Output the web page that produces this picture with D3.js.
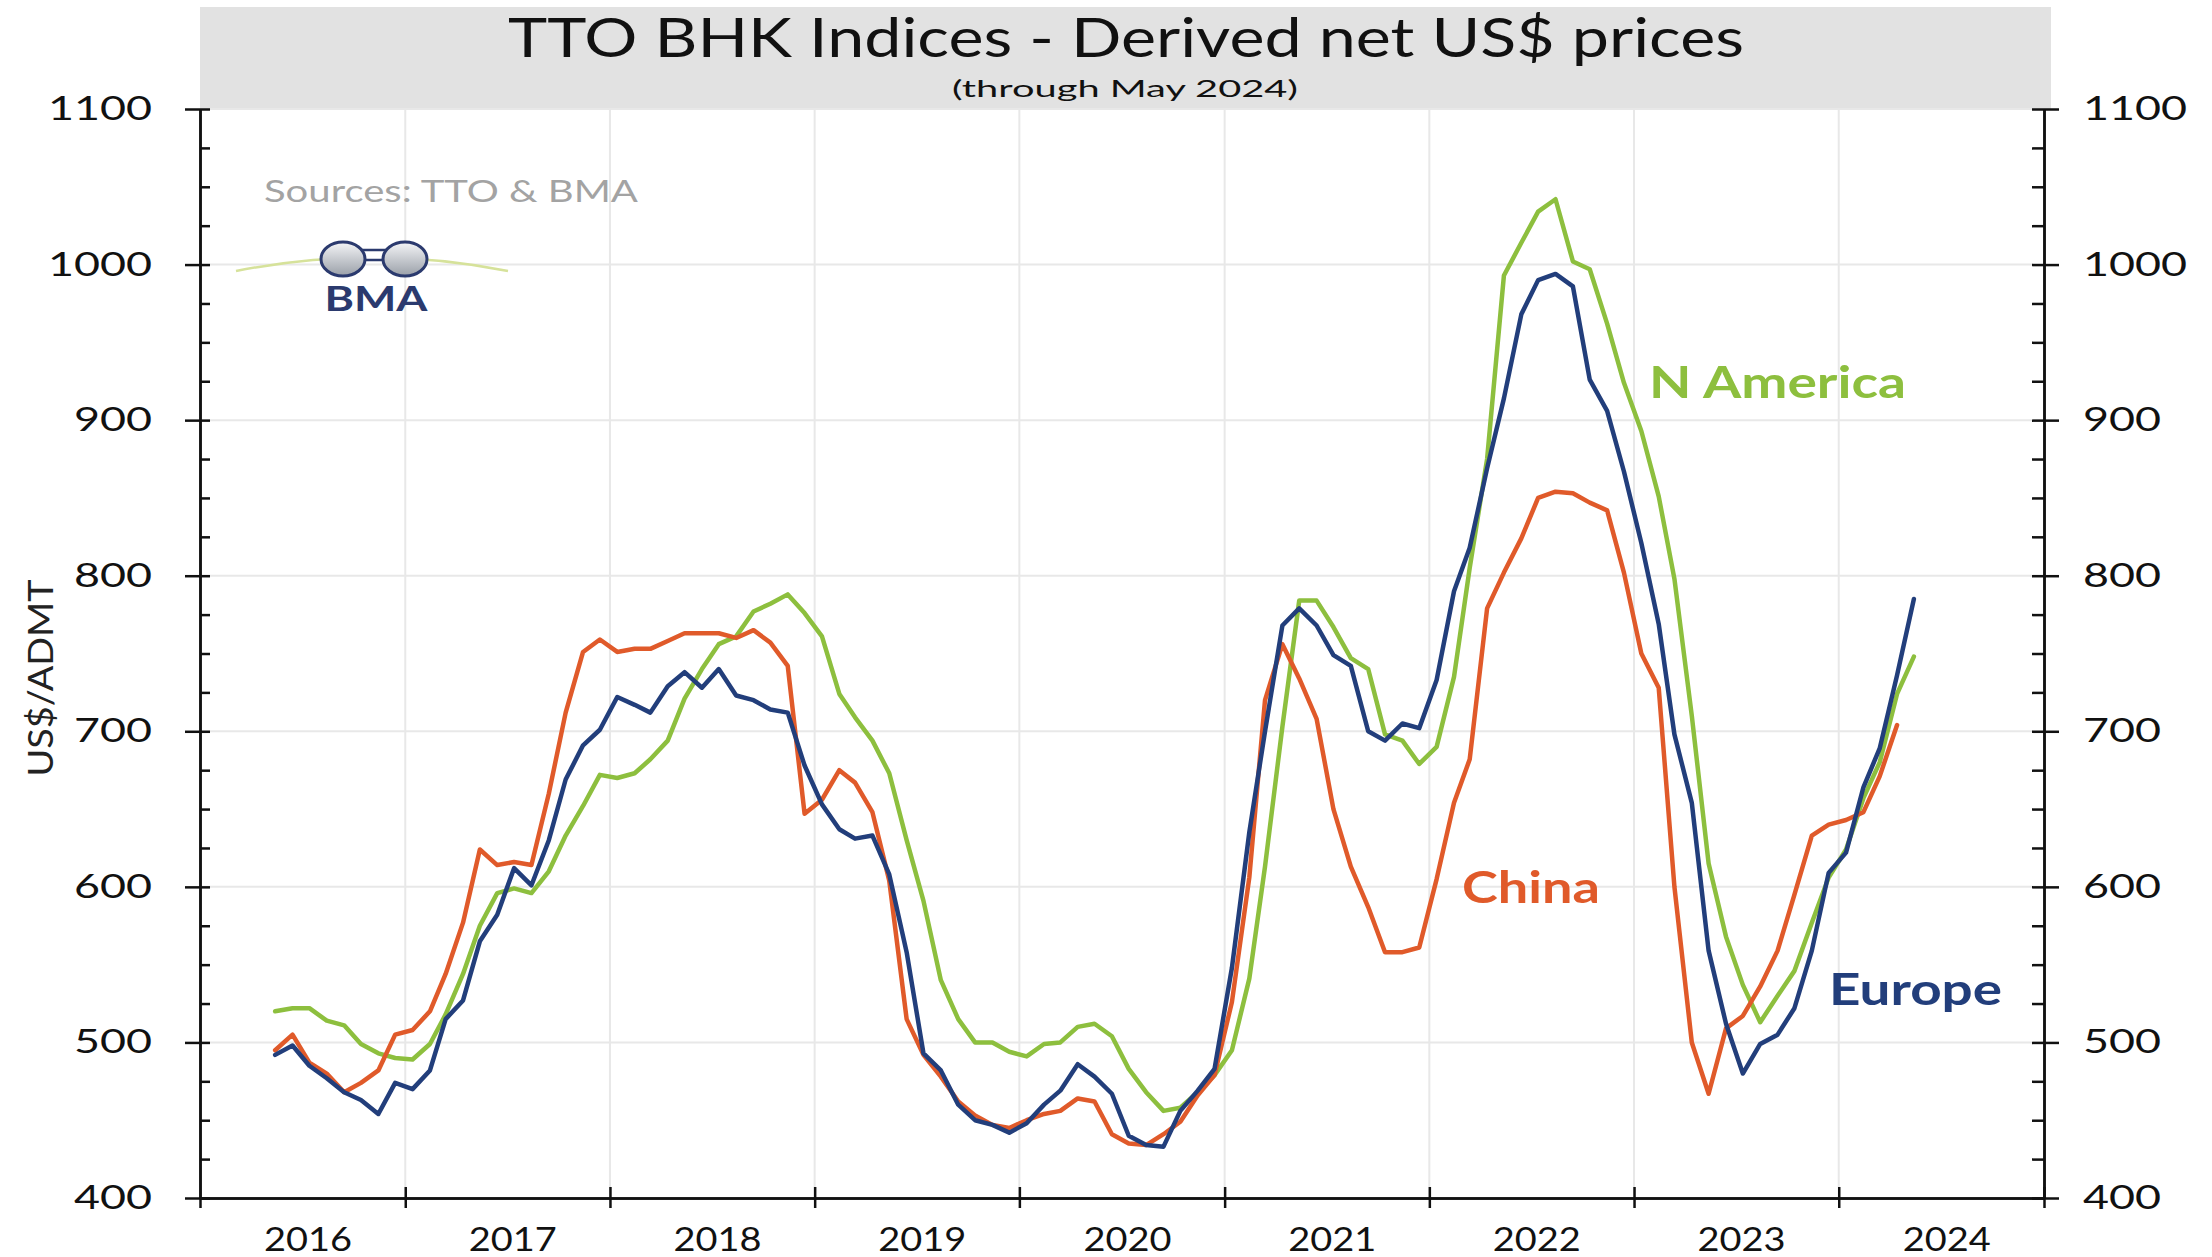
<!DOCTYPE html>
<html>
<head>
<meta charset="utf-8">
<script src="https://cdn.jsdelivr.net/npm/d3@7"></script>
<style>
  body { margin: 0; background: #fff; }
  svg { display: block; font-family: Lato, 'Open Sans', sans-serif; }
  .grid line { stroke: #e8e8e8; stroke-width: 2; }
  .series { fill: none; stroke-width: 4.5; stroke-linejoin: round; stroke-linecap: round; }
  .axis path, .axis line { stroke: #111; stroke-width: 2.5; }
</style>
</head>
<body>
<div id="chart"></div>
<script>
// Monthly values, May 2016 -> May 2024 (China ends April 2024)
const firstMonth = new Date(2016, 4, 14);

const europe = [
  492, 498, 485, 477, 468, 463, 454, 474, 470, 482, 515, 527,
  565, 582, 612, 601, 630, 669, 691, 701, 722, 717, 712, 729,
  738, 728, 740, 723, 720, 714, 712, 678, 653, 637, 631, 633,
  608, 558, 493, 482, 460, 450, 447, 442, 448, 460, 469, 486,
  478, 467, 440, 434, 433, 456, 469, 483, 548, 635, 700, 768,
  779, 768, 749, 742, 700, 694, 705, 702, 733, 790, 818, 869,
  914, 968, 990, 994, 986, 926, 906, 867, 821, 769, 698, 654,
  559, 512, 480, 499, 505, 522, 559, 609, 622, 664, 689, 736,
  785
];

const nAmerica = [
  520, 522, 522, 514, 511, 499, 493, 490, 489, 499, 518, 544,
  575, 596, 599, 596, 610, 633, 652, 672, 670, 673, 682, 694,
  721, 740, 756, 761, 777, 782, 788, 776, 761, 724, 709, 694,
  673, 630, 591, 540, 515, 500, 500, 494, 491, 499, 500, 510,
  512, 504, 483, 468, 456, 458, 468, 479, 495, 541, 613, 703,
  784, 784, 767, 747, 740, 698, 694, 679, 690, 735, 805, 875,
  993, 1014, 1034, 1042, 1002, 997, 962, 924, 893, 851, 798, 710,
  615, 568, 537, 513, 530, 546, 577, 606, 624, 657, 680, 724,
  748
];

const china = [
  495, 505, 487, 480, 468, 474, 482, 505, 508, 520, 544, 577,
  624, 614, 616, 614, 660, 712, 751, 759, 751, 753, 753, 758,
  763, 763, 763, 760, 765, 757, 742, 647, 656, 675, 667, 648,
  604, 515, 492, 478, 462, 453, 447, 445, 450, 454, 456, 464,
  462, 441, 435, 434, 441, 449, 466, 479, 526, 606, 720, 756,
  734, 708, 650, 613, 587, 558, 558, 561, 605, 654, 682, 779,
  802, 824, 850, 854, 853, 847, 842, 802, 750, 728, 600, 500,
  467, 509, 517, 536, 559, 595, 633, 640, 643, 648, 671, 704
];

const years = ['2016', '2017', '2018', '2019', '2020', '2021', '2022', '2023', '2024'];
const yTicks = [400, 500, 600, 700, 800, 900, 1000, 1100];
const seriesNames = ['N America', 'China', 'Europe'];
const seriesColors = ['#8dbf3e', '#e05a2a', '#223e7b'];

class PriceChart {

  constructor(_config, _data) {
    this.config = {
      parentElement: _config.parentElement,
      containerWidth: 2212,
      containerHeight: 1257,
      margin: {top: 109, right: 168, bottom: 59, left: 200}
    };
    this.data = _data;
    this.initVis();
  }

  initVis() {
    let vis = this;
    const cfg = vis.config;
    cfg.width = cfg.containerWidth - cfg.margin.left - cfg.margin.right;
    cfg.height = cfg.containerHeight - cfg.margin.top - cfg.margin.bottom;

    vis.svg = d3.select(cfg.parentElement).append('svg')
        .attr('width', cfg.containerWidth)
        .attr('height', cfg.containerHeight);

    // grey title band
    vis.svg.append('rect')
        .attr('x', 200).attr('y', 7)
        .attr('width', 1851).attr('height', 103)
        .attr('fill', '#e2e2e2');

    vis.svg.append('text')
        .attr('x', 1126).attr('y', 57)
        .attr('text-anchor', 'middle')
        .attr('font-size', 54)
        .attr('textLength', 1236).attr('lengthAdjust', 'spacingAndGlyphs')
        .attr('fill', '#111')
        .text('TTO BHK Indices - Derived net US$ prices');

    vis.svg.append('text')
        .attr('x', 1125).attr('y', 97)
        .attr('text-anchor', 'middle')
        .attr('font-size', 23)
        .attr('textLength', 346).attr('lengthAdjust', 'spacingAndGlyphs')
        .attr('fill', '#111')
        .text('(through May 2024)');

    vis.chart = vis.svg.append('g')
        .attr('transform', `translate(${cfg.margin.left},${cfg.margin.top})`);

    vis.x = d3.scaleTime()
        .domain([new Date(2016, 0, 1), new Date(2025, 0, 1)])
        .range([0, cfg.width]);

    vis.y = d3.scaleLinear()
        .domain([400, 1100])
        .range([cfg.height, 0]);

    vis.line = d3.line()
        .x(d => vis.x(d.date))
        .y(d => vis.y(d.value));

    vis.renderVis();
    vis.renderDecor();
  }

  renderVis() {
    let vis = this;
    const cfg = vis.config;
    const yearStarts = years.map(y => new Date(+y, 0, 1)).concat([new Date(2025, 0, 1)]);

    // gridlines
    const grid = vis.chart.append('g').attr('class', 'grid');
    grid.selectAll('.hg')
        .data(yTicks.filter(d => d > 400))
      .join('line')
        .attr('x1', 0).attr('x2', cfg.width)
        .attr('y1', d => vis.y(d)).attr('y2', d => vis.y(d));
    grid.selectAll('.vg')
        .data(yearStarts.slice(1, -1))
      .join('line')
        .attr('x1', d => vis.x(d)).attr('x2', d => vis.x(d))
        .attr('y1', 0).attr('y2', cfg.height);

    // series lines
    vis.chart.selectAll('.series')
        .data(vis.data)
      .join('path')
        .attr('class', 'series')
        .attr('stroke', d => d.color)
        .attr('d', d => vis.line(d.values));

    const minorTicks = d3.range(400, 1101, 25);
    const fmt = d3.format('d');
    const styleLabels = (g, w3, w4) => {
      g.attr('font-family', null).attr('font-size', null);
      g.selectAll('text')
          .attr('font-size', 33)
          .attr('fill', '#111')
          .attr('lengthAdjust', 'spacingAndGlyphs')
          .attr('textLength', d => fmt(d).length === 4 ? w4 : w3);
    };

    // left axis
    vis.chart.append('g').attr('class', 'axis')
        .call(d3.axisLeft(vis.y).tickValues(yTicks).tickFormat(fmt).tickSize(15).tickSizeOuter(0).tickPadding(33))
        .call(g => styleLabels(g, 78, 104));
    vis.chart.append('g').attr('class', 'axis')
        .call(d3.axisRight(vis.y).tickValues(minorTicks).tickSize(10).tickSizeOuter(0).tickFormat(''));

    // right axis
    vis.chart.append('g').attr('class', 'axis')
        .attr('transform', `translate(${cfg.width},0)`)
        .call(d3.axisRight(vis.y).tickValues(yTicks).tickFormat(fmt).tickSize(15).tickSizeOuter(0).tickPadding(24))
        .call(g => styleLabels(g, 78, 104));
    vis.chart.append('g').attr('class', 'axis')
        .attr('transform', `translate(${cfg.width},0)`)
        .call(d3.axisLeft(vis.y).tickValues(minorTicks).tickSize(12).tickSizeOuter(0).tickFormat(''));

    // bottom axis: year boundary ticks crossing the line
    vis.chart.append('g').attr('class', 'axis')
        .attr('transform', `translate(0,${cfg.height})`)
        .call(d3.axisBottom(vis.x).tickValues(yearStarts).tickSize(10).tickSizeOuter(0).tickFormat(''));
    vis.chart.append('g').attr('class', 'axis')
        .attr('transform', `translate(0,${cfg.height})`)
        .call(d3.axisTop(vis.x).tickValues(yearStarts.slice(1)).tickSize(11).tickSizeOuter(0).tickFormat(''));

    vis.chart.selectAll('.year-label')
        .data(years)
      .join('text')
        .attr('class', 'year-label')
        .attr('x', d => vis.x(new Date(+d, 6, 1)) + 6)
        .attr('y', cfg.height + 53)
        .attr('text-anchor', 'middle')
        .attr('font-size', 32)
        .attr('textLength', 88).attr('lengthAdjust', 'spacingAndGlyphs')
        .attr('fill', '#111')
        .text(d => d);

    // y axis title
    vis.svg.append('text')
        .attr('transform', 'translate(53,678) rotate(-90)')
        .attr('text-anchor', 'middle')
        .attr('font-size', 35)
        .attr('textLength', 197).attr('lengthAdjust', 'spacingAndGlyphs')
        .attr('fill', '#222')
        .text('US$/ADMT');

    // series labels
    const labelPos = [[1649, 398, 257], [1462, 903, 138], [1829, 1005, 173]];
    vis.svg.selectAll('.series-label')
        .data(vis.data)
      .join('text')
        .attr('class', 'series-label')
        .attr('x', (d, i) => labelPos[i][0])
        .attr('y', (d, i) => labelPos[i][1])
        .attr('textLength', (d, i) => labelPos[i][2]).attr('lengthAdjust', 'spacingAndGlyphs')
        .attr('font-size', 43)
        .attr('font-weight', 'bold')
        .attr('fill', d => d.color)
        .text(d => d.name);
  }

  // sources note and BMA logo
  renderDecor() {
    let vis = this;
    vis.svg.append('text')
        .attr('x', 264).attr('y', 202)
        .attr('font-size', 30)
        .attr('textLength', 374).attr('lengthAdjust', 'spacingAndGlyphs')
        .attr('fill', '#a3a3a3')
        .text('Sources: TTO & BMA');

    const logo = vis.svg.append('g');
    logo.append('path')
        .attr('d', 'M236,271 Q372,244 508,271')
        .attr('fill', 'none')
        .attr('stroke', '#d6e29a')
        .attr('stroke-width', 2.5);

    const grad = vis.svg.append('defs').append('linearGradient')
        .attr('id', 'lens').attr('x1', 0).attr('y1', 0).attr('x2', 0).attr('y2', 1);
    grad.append('stop').attr('offset', '0%').attr('stop-color', '#f4f5f7');
    grad.append('stop').attr('offset', '100%').attr('stop-color', '#9aa0a8');

    logo.append('rect')
        .attr('x', 360).attr('y', 250).attr('width', 28).attr('height', 10)
        .attr('fill', '#fff').attr('stroke', '#2b3a6e').attr('stroke-width', 2.5);
    logo.selectAll('ellipse')
        .data([343, 405])
      .join('ellipse')
        .attr('cx', d => d).attr('cy', 259)
        .attr('rx', 22).attr('ry', 17)
        .attr('fill', 'url(#lens)')
        .attr('stroke', '#2b3a6e').attr('stroke-width', 3);

    logo.append('text')
        .attr('x', 376).attr('y', 311)
        .attr('text-anchor', 'middle')
        .attr('font-size', 34).attr('font-weight', 'bold')
        .attr('textLength', 103).attr('lengthAdjust', 'spacingAndGlyphs')
        .attr('fill', '#2b3a6e')
        .text('BMA');
  }
}

const toPoints = arr => arr.map((v, i) => ({date: d3.timeMonth.offset(firstMonth, i), value: v}));
const seriesData = [nAmerica, china, europe].map((arr, i) => ({
  name: seriesNames[i],
  color: seriesColors[i],
  values: toPoints(arr)
}));

new PriceChart({parentElement: '#chart'}, seriesData);
</script>
</body>
</html>
